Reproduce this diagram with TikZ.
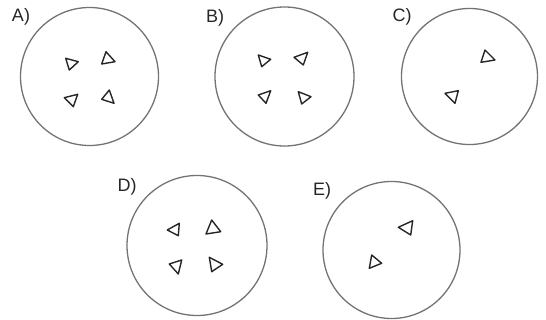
\documentclass[tikz,border=0pt]{standalone}
\usepackage{fontspec}
\setmainfont{Liberation Sans}
\begin{document}
\begin{tikzpicture}[x=1pt,y=-1pt,
  ring/.style={draw=black!55,line width=1.3pt},
  tri/.style={draw=black!85,line width=1.4pt,line join=round},
  lab/.style={font=\fontsize{18}{18}\selectfont,text=black!85,inner sep=0pt}]
\useasboundingbox (0,0) rectangle (546,320);
% circles
\draw[ring] (89.5,76.5) circle (69);
\draw[ring] (284.5,76.5) circle (69.5);
\draw[ring] (469.5,76.5) circle (68);
\draw[ring] (197,245.5) circle (70);
\draw[ring] (391.5,250) circle (68.5);
% labels
\node[lab] (la) at (21,17) {A)};
\node[lab] (lb) at (215,18) {B)};
\node[lab] (lc) at (402,17) {C)};
\node[lab] (ld) at (127,187) {D)};
\node[lab] (le) at (322,191) {E)};
% A
\draw[tri] (65.7,58.3) -- (78.3,61.7) -- (69.3,70) -- cycle;
\draw[tri] (106,51.7) -- (115,61.7) -- (101.7,64) -- cycle;
\draw[tri] (64.3,97.7) -- (77.7,94.3) -- (73.3,106.7) -- cycle;
\draw[tri] (109.3,90) -- (114,103.3) -- (101.7,99.3) -- cycle;
% B
\draw[tri] (258.3,55) -- (270.7,59.3) -- (261.7,66.7) -- cycle;
\draw[tri] (307.7,52.3) -- (303.3,65) -- (294,57.3) -- cycle;
\draw[tri] (258.3,95) -- (270.7,90.7) -- (266,103.3) -- cycle;
\draw[tri] (298.3,91.7) -- (311,96.7) -- (301.7,104) -- cycle;
% C
\draw[tri] (485,50) -- (495,60) -- (481,62.3) -- cycle;
\draw[tri] (445,93.3) -- (458.3,90.7) -- (455,103.3) -- cycle;
% D
\draw[tri] (179.3,223.3) -- (178.3,235.7) -- (167.3,230) -- cycle;
\draw[tri] (211.7,220) -- (220.7,231.7) -- (206,234) -- cycle;
\draw[tri] (169.3,264) -- (181.7,260) -- (178.3,274) -- cycle;
\draw[tri] (209.3,257.3) -- (222.7,264.3) -- (211.7,271.7) -- cycle;
% E
\draw[tri] (412.7,220.7) -- (410.7,235) -- (398.3,227.3) -- cycle;
\draw[tri] (371.7,255) -- (381.7,263.3) -- (369.3,268.3) -- cycle;
\end{tikzpicture}
\end{document}
